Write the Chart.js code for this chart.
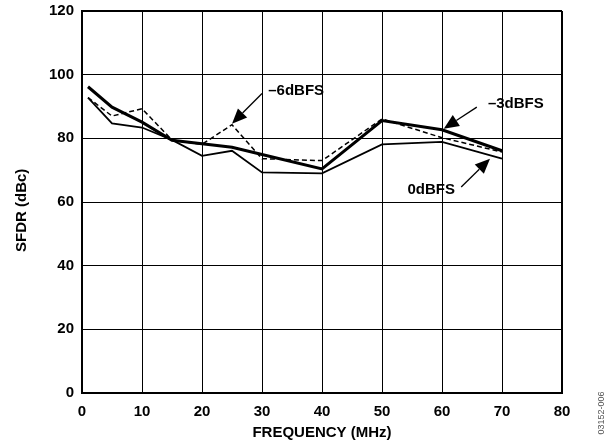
<!DOCTYPE html>
<html>
<head>
<meta charset="utf-8">
<script src="https://cdn.jsdelivr.net/npm/chart.js@4/dist/chart.umd.min.js"></script>
<style>
  html, body { margin: 0; padding: 0; background: #fff; }
  #wrap { width: 616px; height: 446px; }
</style>
</head>
<body>
<div id="wrap"><canvas id="myChart" width="616" height="446"></canvas></div>
<script>
// Frequency points (MHz)
var freqs = [1, 5, 10, 15, 20, 25, 30, 40, 50, 60, 70];
// SFDR (dBc)
var sfdr0dBFS = [92.8, 84.7, 83.4, 79.5, 74.5, 76.1, 69.3, 69.0, 78.1, 78.9, 73.6];
var sfdr3dBFS = [96.2, 89.8, 85.1, 79.4, 78.3, 77.2, 74.9, 70.4, 85.6, 82.7, 76.1];
var sfdr6dBFS = [92.8, 87.0, 89.3, 79.5, 78.1, 84.3, 73.6, 73.0, 86.1, 80.2, 75.7];

var FONT = '"Liberation Sans", Arial, Helvetica, sans-serif';

function toPoints(ys) {
    return freqs.map(function (f, i) { return { x: f, y: ys[i] }; });
}

// labels with arrows, given in data units
var callouts = [
    { text: '\u20136dBFS', tx: 35.7, ty: 94.9, from: [30, 94.1], to: [25, 84.6] },
    { text: '\u20133dBFS', tx: 72.3, ty: 90.9, from: [65.8, 89.8], to: [60.3, 83.0] },
    { text: '0dBFS', tx: 58.2, ty: 63.9, from: [63.2, 64.7], to: [68.0, 73.6] }
];

var calloutPlugin = {
    id: 'callouts',
    afterDatasetsDraw: function (chart) {
        var c = chart.ctx, xs = chart.scales.x, ys = chart.scales.y;
        c.save();
        c.fillStyle = '#000';
        c.strokeStyle = '#000';
        c.font = 'bold 15px ' + FONT;
        c.textAlign = 'center';
        c.textBaseline = 'middle';
        callouts.forEach(function (a) {
            c.fillText(a.text, xs.getPixelForValue(a.tx), ys.getPixelForValue(a.ty));
            var x1 = xs.getPixelForValue(a.from[0]), y1 = ys.getPixelForValue(a.from[1]);
            var x2 = xs.getPixelForValue(a.to[0]), y2 = ys.getPixelForValue(a.to[1]);
            var ang = Math.atan2(y2 - y1, x2 - x1);
            var len = 15, half = 6.5;
            var bx = x2 - len * Math.cos(ang), by = y2 - len * Math.sin(ang);
            c.lineWidth = 1.3;
            c.beginPath();
            c.moveTo(x1, y1);
            c.lineTo(bx, by);
            c.stroke();
            c.beginPath();
            c.moveTo(x2, y2);
            c.lineTo(bx + half * Math.sin(ang), by - half * Math.cos(ang));
            c.lineTo(bx - half * Math.sin(ang), by + half * Math.cos(ang));
            c.closePath();
            c.fill();
        });
        // figure number at the right edge
        c.font = '9px ' + FONT;
        c.fillStyle = '#555';
        c.translate(602, 413);
        c.rotate(-Math.PI / 2);
        c.fillText('03152-006', 0, 0);
        c.restore();
    }
};

var ctx = document.getElementById('myChart').getContext('2d');
var myChart = new Chart(ctx, {
    type: 'line',
    data: {
        datasets: [
            {
                label: '0dBFS',
                data: toPoints(sfdr0dBFS),
                borderColor: '#000',
                borderWidth: 1.8,
                pointRadius: 0,
                tension: 0
            },
            {
                label: '-6dBFS',
                data: toPoints(sfdr6dBFS),
                borderColor: '#000',
                borderWidth: 1.5,
                borderDash: [5, 3],
                pointRadius: 0,
                tension: 0
            },
            {
                label: '-3dBFS',
                data: toPoints(sfdr3dBFS),
                borderColor: '#000',
                borderWidth: 3,
                pointRadius: 0,
                tension: 0
            }
        ]
    },
    options: {
        responsive: false,
        animation: false,
        layout: {
            padding: { top: 11, right: 54, left: 0, bottom: 0 }
        },
        plugins: {
            legend: { display: false },
            tooltip: { enabled: false }
        },
        scales: {
            x: {
                type: 'linear',
                min: 0,
                max: 80,
                ticks: {
                    stepSize: 10,
                    color: '#000',
                    padding: 10,
                    maxRotation: 0,
                    font: { family: FONT, size: 15, weight: 'bold' }
                },
                grid: {
                    color: '#000',
                    drawTicks: false,
                    lineWidth: function (c) { return c.tick && c.tick.value === 80 ? 2 : 1; }
                },
                border: { color: '#000', width: 2 },
                title: {
                    display: true,
                    text: 'FREQUENCY (MHz)',
                    color: '#000',
                    padding: { top: 0, bottom: 4 },
                    font: { family: FONT, size: 15, weight: 'bold' }
                },
                afterFit: function (scale) {
                    scale.height = 53;
                    scale.paddingLeft = 0;
                    scale.paddingRight = 0;
                }
            },
            y: {
                min: 0,
                max: 120,
                ticks: {
                    stepSize: 20,
                    color: '#000',
                    padding: 8,
                    font: { family: FONT, size: 15, weight: 'bold' }
                },
                grid: {
                    color: '#000',
                    drawTicks: false,
                    lineWidth: function (c) { return c.tick && c.tick.value === 120 ? 2 : 1; }
                },
                border: { color: '#000', width: 2 },
                title: {
                    display: true,
                    // trailing spaces nudge the rotated title a bit lower, as in the original
                    text: 'SFDR (dBc)    ',
                    color: '#000',
                    padding: { top: 13, bottom: 0 },
                    font: { family: FONT, size: 15, weight: 'bold' }
                },
                afterFit: function (scale) {
                    scale.width = 82;
                    scale.paddingTop = 0;
                    scale.paddingBottom = 0;
                }
            }
        }
    },
    plugins: [calloutPlugin]
});
</script>
</body>
</html>
